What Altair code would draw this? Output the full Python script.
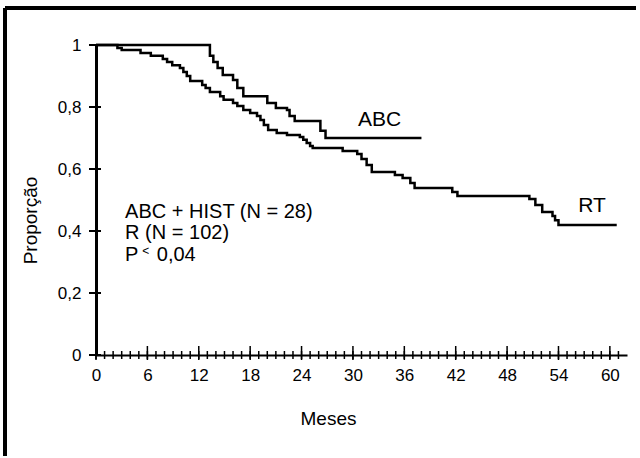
import altair as alt
import pandas as pd

# ---- data ----
abc_months = [0, 13.3, 13.7, 14.2, 14.8, 16.0, 16.5, 17.2, 20.0, 21.0, 22.3, 22.6, 23.2, 26.2, 26.8, 38.0]
abc_surv   = [1.0, 0.965, 0.945, 0.926, 0.903, 0.887, 0.861, 0.835, 0.813, 0.797, 0.790, 0.771, 0.755, 0.723, 0.700, 0.700]

rt_months = [0, 2.5, 3.0, 5.2, 6.4, 7.8, 8.3, 8.9, 9.8, 10.2, 10.6, 11.0, 12.4, 12.8, 13.3,
             14.5, 14.9, 16.0, 16.5, 17.2, 18.0, 18.8, 19.2, 19.6, 20.1, 21.1, 22.3, 23.8,
             24.2, 24.6, 25.0, 25.3, 28.8, 30.5, 31.0, 31.6, 32.2, 34.9, 35.8, 36.7, 37.2,
             41.6, 42.2, 50.6, 51.3, 52.1, 53.3, 53.6, 54.0, 60.8]
rt_surv   = [1.0, 0.99, 0.984, 0.974, 0.965, 0.955, 0.945, 0.935, 0.926, 0.913, 0.900, 0.884, 0.871, 0.861, 0.848,
             0.835, 0.823, 0.813, 0.803, 0.790, 0.781, 0.771, 0.758, 0.742, 0.726, 0.716, 0.710, 0.703,
             0.694, 0.684, 0.674, 0.668, 0.658, 0.648, 0.632, 0.613, 0.590, 0.581, 0.571, 0.555, 0.539,
             0.526, 0.513, 0.503, 0.484, 0.461, 0.448, 0.435, 0.419, 0.419]

x_major_ticks = [0, 6, 12, 18, 24, 30, 36, 42, 48, 54, 60]
x_minor_ticks = list(range(0, 62))
y_ticks = [0, 0.2, 0.4, 0.6, 0.8, 1.0]

curve_labels = ["ABC", "RT"]
curve_label_months = [30.6, 56.3]
curve_label_surv = [0.758, 0.481]

note_texts  = ["ABC + HIST (N = 28)", "R (N = 102)", "P", "0,04"]
note_months = [3.4, 3.4, 3.4, 7.1]
note_surv   = [0.461, 0.394, 0.323, 0.323]
lt_months = [5.4]
lt_surv = [0.337]

assert len(abc_months) == len(abc_surv)
assert len(rt_months) == len(rt_surv)

curves = pd.concat([
    pd.DataFrame({"month": abc_months, "surv": abc_surv, "grp": "ABC"}),
    pd.DataFrame({"month": rt_months, "surv": rt_surv, "grp": "RT"}),
])

FONT = "Liberation Sans"

xscale = alt.Scale(domain=[0, 62], nice=False, zero=False)
yscale = alt.Scale(domain=[0, 1], nice=False)

lines = alt.Chart(curves).mark_line(
    interpolate="step-after", color="black", strokeWidth=2.5
).encode(
    x=alt.X("month:Q", scale=xscale, title="Meses",
            axis=alt.Axis(values=x_major_ticks, ticks=False, grid=False, domainColor="black",
                          domainWidth=2, labelFont=FONT, labelFontSize=17, labelColor="black",
                          labelPadding=12, labelFlush=False, titleFont=FONT, titleFontSize=19,
                          titleFontWeight="normal", titleColor="black", titleX=232, titleY=63,
                          titleBaseline="middle")),
    y=alt.Y("surv:Q", scale=yscale, title="Proporção",
            axis=alt.Axis(values=y_ticks, ticks=False, grid=False, domainColor="black",
                          domainWidth=3, labelFont=FONT, labelFontSize=17, labelColor="black",
                          labelPadding=15, labelFlush=False,
                          labelExpr="datum.value == 0 ? '0' : datum.value == 1 ? '1' : replace(format(datum.value, '.1f'), '.', ',')",
                          titleFont=FONT, titleFontSize=19, titleFontWeight="normal", titleColor="black",
                          titleX=-66, titleY=175, titleBaseline="middle")),
    detail="grp:N",
)

yt = alt.Chart(pd.DataFrame({"surv": y_ticks})).mark_rule(color="black", strokeWidth=2).encode(
    y=alt.Y("surv:Q", scale=yscale), x=alt.value(-7), x2=alt.value(5))

xminor = alt.Chart(pd.DataFrame({"month": x_minor_ticks})).mark_rule(color="black", strokeWidth=1.5).encode(
    x=alt.X("month:Q", scale=xscale), y=alt.value(306), y2=alt.value(314))

xmajor = alt.Chart(pd.DataFrame({"month": x_major_ticks})).mark_rule(color="black", strokeWidth=1.5).encode(
    x=alt.X("month:Q", scale=xscale), y=alt.value(301), y2=alt.value(315))

clabels = alt.Chart(pd.DataFrame({"month": curve_label_months, "surv": curve_label_surv, "t": curve_labels})).mark_text(
    font=FONT, fontSize=21, align="left", baseline="middle", color="black"
).encode(x=alt.X("month:Q", scale=xscale), y=alt.Y("surv:Q", scale=yscale), text="t:N")

notes = alt.Chart(pd.DataFrame({"month": note_months, "surv": note_surv, "t": note_texts})).mark_text(
    font=FONT, fontSize=20, align="left", baseline="middle", color="black"
).encode(x=alt.X("month:Q", scale=xscale), y=alt.Y("surv:Q", scale=yscale), text="t:N")

lt = alt.Chart(pd.DataFrame({"month": lt_months, "surv": lt_surv, "t": ["<"]})).mark_text(
    font=FONT, fontSize=12, align="left", baseline="middle", color="black"
).encode(x=alt.X("month:Q", scale=xscale), y=alt.Y("surv:Q", scale=yscale), text="t:N")

one = pd.DataFrame({"k": [0]})
frame_top = alt.Chart(one).mark_rule(color="black", strokeWidth=4).encode(
    x=alt.value(-91), x2=alt.value(540), y=alt.value(-37))
frame_left = alt.Chart(one).mark_rule(color="black", strokeWidth=4).encode(
    x=alt.value(-91), y=alt.value(-37), y2=alt.value(411))

chart = alt.layer(frame_top, frame_left, xminor, xmajor, yt, lines, clabels, notes, lt).properties(
    width=531, height=310,
    autosize=alt.AutoSizeParams(type="none"),
    padding={"left": 96, "top": 45, "right": 13, "bottom": 103},
    background="white",
).configure_view(stroke=None)

chart.save("out.html", embed_options={"renderer": "svg", "actions": False})
